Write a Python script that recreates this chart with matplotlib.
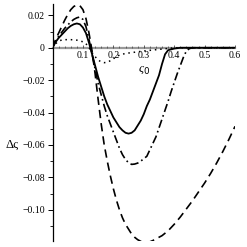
import matplotlib.pyplot as plt
from matplotlib.ticker import MultipleLocator

# curves (x = varsigma_0, y = delta varsigma)
x_solid = [0, 0.01, 0.02, 0.03, 0.04, 0.05, 0.06, 0.07, 0.08, 0.09, 0.1, 0.11, 0.12, 0.13, 0.14,
           0.15, 0.16, 0.17, 0.18, 0.19, 0.2, 0.21, 0.22, 0.23, 0.24, 0.25, 0.26, 0.27, 0.28, 0.29,
           0.3, 0.31, 0.32, 0.33, 0.34, 0.35, 0.36, 0.37, 0.38, 0.39, 0.4, 0.42, 0.45, 0.5, 0.6]
y_solid = [0, 0.0035, 0.006, 0.008, 0.010, 0.012, 0.0135, 0.0145, 0.015, 0.0145, 0.0125, 0.009,
           0.003, -0.004, -0.011, -0.018, -0.024, -0.030, -0.035, -0.039, -0.043, -0.046, -0.049,
           -0.051, -0.0525, -0.053, -0.0525, -0.051, -0.048, -0.045, -0.041, -0.036, -0.032,
           -0.027, -0.022, -0.017, -0.010, -0.004, -0.0015, -0.001, -0.0005, 0, 0, 0, 0]

x_dashdot = [0, 0.01, 0.02, 0.03, 0.04, 0.05, 0.06, 0.07, 0.08, 0.09, 0.1, 0.11, 0.12, 0.13, 0.14,
             0.15, 0.16, 0.17, 0.18, 0.19, 0.2, 0.21, 0.22, 0.23, 0.24, 0.25, 0.26, 0.27, 0.28, 0.29,
             0.3, 0.31, 0.32, 0.33, 0.34, 0.35, 0.36, 0.37, 0.38, 0.39, 0.4, 0.41, 0.42, 0.43, 0.44,
             0.45, 0.46, 0.5, 0.6]
y_dashdot = [0, 0.004, 0.007, 0.0095, 0.012, 0.014, 0.016, 0.0175, 0.0185, 0.019, 0.0175, 0.013,
             0.005, -0.004, -0.013, -0.022, -0.029, -0.036, -0.042, -0.047, -0.052, -0.057, -0.062,
             -0.066, -0.069, -0.071, -0.072, -0.0718, -0.0712, -0.070, -0.0685, -0.067, -0.063,
             -0.059, -0.055, -0.0495, -0.044, -0.0385, -0.033, -0.027, -0.0215, -0.016, -0.011,
             -0.006, -0.002, -0.0005, 0, 0, 0]

x_dashed = [0, 0.01, 0.02, 0.03, 0.04, 0.05, 0.06, 0.07, 0.08, 0.09, 0.1, 0.11, 0.12, 0.13, 0.14,
            0.15, 0.16, 0.17, 0.18, 0.19, 0.2, 0.21, 0.22, 0.23, 0.24, 0.25, 0.26, 0.27, 0.28, 0.29,
            0.3, 0.31, 0.32, 0.33, 0.34, 0.35, 0.36, 0.38, 0.4, 0.42, 0.44, 0.46, 0.48, 0.5, 0.52,
            0.54, 0.56, 0.58, 0.6]
y_dashed = [0, 0.005, 0.009, 0.013, 0.017, 0.0205, 0.0235, 0.0255, 0.0264, 0.026, 0.0235, 0.018,
            0.009, -0.002, -0.016, -0.032, -0.047, -0.060, -0.070, -0.079, -0.087, -0.094, -0.100,
            -0.105, -0.109, -0.112, -0.115, -0.117, -0.1185, -0.1195, -0.120, -0.120, -0.1198,
            -0.119, -0.118, -0.117, -0.116, -0.113, -0.109, -0.1045, -0.0995, -0.0945, -0.089,
            -0.0835, -0.0775, -0.071, -0.064, -0.0565, -0.0485]

x_dotted = [0, 0.01, 0.02, 0.03, 0.04, 0.06, 0.08, 0.1, 0.11, 0.12, 0.13, 0.14, 0.15, 0.16, 0.17,
            0.18, 0.19, 0.2, 0.21, 0.22, 0.24, 0.26, 0.3, 0.35, 0.4, 0.6]
y_dotted = [0, 0.0025, 0.004, 0.0048, 0.005, 0.005, 0.0047, 0.0037, 0.0025, 0.0, -0.003, -0.0055,
            -0.0075, -0.0088, -0.0092, -0.009, -0.008, -0.0068, -0.0055, -0.0045, -0.0035, -0.003,
            -0.002, -0.001, 0, 0]

x_ticks = [0.1, 0.2, 0.3, 0.4, 0.5, 0.6]
y_ticks = [0.02, 0, -0.02, -0.04, -0.06, -0.08, -0.10]
y_ticklabels = ["0.02", "0", "\u22120.02", "\u22120.04", "\u22120.06", "\u22120.08", "\u22120.10"]

plt.rcParams["font.family"] = ["Liberation Serif", "DejaVu Serif"]

fig = plt.figure(figsize=(2.47, 2.47), dpi=100)
ax = fig.add_axes([0.2126, 0.023, 0.739, 0.9607])

ax.plot(x_solid, y_solid, color="black", lw=1.3, ls="-")
ax.plot(x_dashdot, y_dashdot, color="black", lw=1.2, ls=(0, (5, 2, 1, 2)))
ax.plot(x_dashed, y_dashed, color="black", lw=1.2, ls=(0, (5, 3)))
ax.plot(x_dotted, y_dotted, color="black", lw=1.1, ls=(0, (1, 2.5)))

ax.set_xlim(0, 0.6)
ax.set_ylim(-0.1195, 0.027)

for s in ["top", "right"]:
    ax.spines[s].set_visible(False)
ax.spines["left"].set_position(("data", 0))
ax.spines["bottom"].set_position(("data", 0))
ax.spines["bottom"].set_color("#999999")
ax.spines["bottom"].set_linewidth(1.6)
ax.spines["left"].set_linewidth(0.9)
ax.spines["bottom"].set_zorder(0)

ax.set_xticks(x_ticks)
ax.set_xticklabels([f"{v:.1f}" for v in x_ticks])
ax.xaxis.set_minor_locator(MultipleLocator(0.02))
ax.set_yticks(y_ticks)
ax.set_yticklabels(y_ticklabels)
ax.yaxis.set_minor_locator(MultipleLocator(0.01))

ax.tick_params(axis="x", which="major", direction="in", length=2.5, width=0.6, labelsize=7, pad=2, color="#444444")
ax.tick_params(axis="x", which="minor", direction="in", length=1.5, width=0.5, color="#444444")
ax.tick_params(axis="y", which="major", direction="out", length=3.5, width=0.7, labelsize=7, pad=2)
ax.tick_params(axis="y", which="minor", direction="out", length=2, width=0.6)

ax.text(0.3, -0.0135, "\u03c2$_0$", fontsize=9, ha="center", va="center", style="italic")
fig.text(12 / 247, 1 - 145 / 247, "\u0394\u03c2", fontsize=9, ha="center", va="center")

fig.savefig("out.png", dpi=100, facecolor="white")
